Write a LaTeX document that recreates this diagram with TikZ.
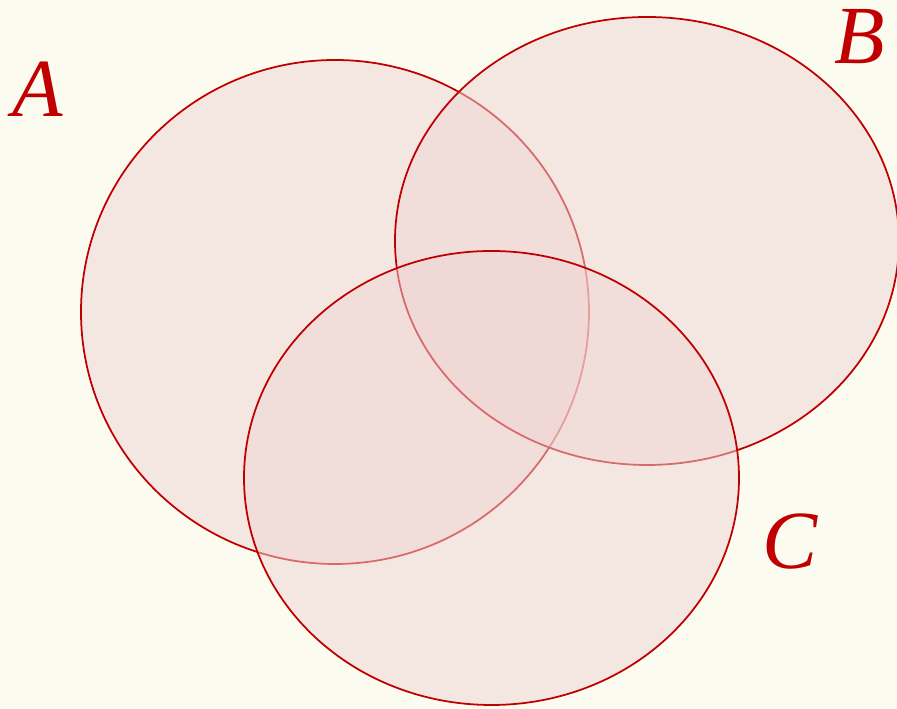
\documentclass[tikz,border=0pt]{standalone}
\usepackage{fontspec}
\usepackage{tikz}
\usetikzlibrary{positioning, calc}

\newfontfamily\labelfont{Liberation Serif}

\definecolor{bgcream}{RGB}{251,251,240}
\definecolor{setred}{RGB}{192,0,0}
\definecolor{setfill}{RGB}{239,213,212}

\tikzset{
    setcircle/.style={draw=setred, line width=1pt, fill=setfill, fill opacity=0.5},
    setlabel/.style={text=setred, font=\labelfont\itshape\fontsize{47}{47}\selectfont}
}

\begin{document}
\begin{tikzpicture}
        % Фон
        \fill[bgcream] (0, 0) rectangle (17.94, 14.18);
        \useasboundingbox (0, 0) rectangle (17.94, 14.18);

        % Множества
        \path[setcircle] (6.70, 7.94) ellipse [x radius=5.08, y radius=5.04];
        \path[setcircle] (12.94, 9.36) ellipse [x radius=5.04, y radius=4.48];
        \path[setcircle] (9.83, 4.62) ellipse [x radius=4.95, y radius=4.54];

        % Подписи
        \node[setlabel] (labA) at (0.76, 12.40) {A};
        \node[setlabel] (labB) at (17.20, 13.44) {B};
        \node[setlabel] (labC) at (15.80, 3.34) {C};
\end{tikzpicture}
\end{document}
